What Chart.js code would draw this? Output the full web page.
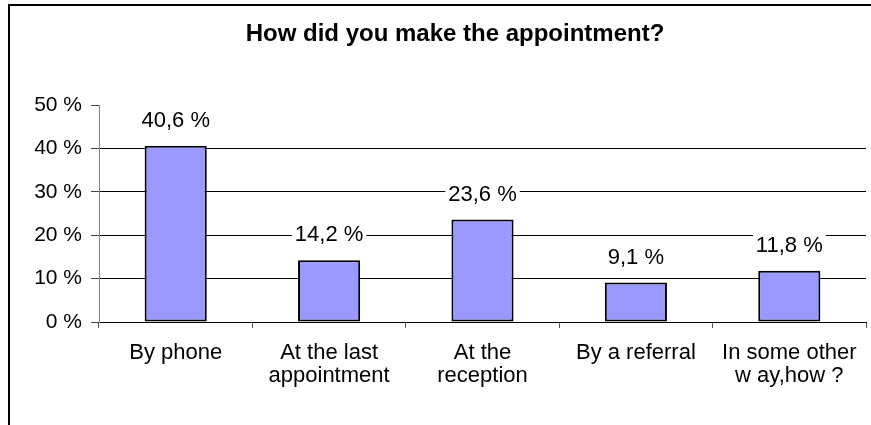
<!DOCTYPE html>
<html>
<head>
<meta charset="utf-8">
<title>How did you make the appointment?</title>
<script src="https://cdn.jsdelivr.net/npm/chart.js@4/dist/chart.umd.min.js"></script>
<style>
  html, body { margin: 0; padding: 0; background: #fff; overflow: hidden; width: 871px; height: 425px; }
  canvas { display: block; }
</style>
</head>
<body>
<canvas id="chart" width="910" height="440"></canvas>
<script>
// Survey answers: share of respondents per booking channel (percent)
const categories = [
  ['By phone'],
  ['At the last', 'appointment'],
  ['At the', 'reception'],
  ['By a referral'],
  ['In some other', 'w ay,how ?']
];
const shares = [40.6, 14.2, 23.6, 9.1, 11.8];
const yTicks = [0, 10, 20, 30, 40, 50];
const chartTitle = 'How did you make the appointment?';

const FONT = '"Liberation Sans", Arial, sans-serif';

const fmtPct = v => v.toFixed(1).replace('.', ',') + ' %';

// Outer frame of the chart object (its right and bottom edges lie past the page)
const FRAME = { left: 9, top: 5, width: 892, height: 500 };

// White background, frame and the title centred on the frame
const framePlugin = {
  id: 'frame',
  beforeDraw(chart) {
    const ctx = chart.ctx;
    ctx.save();
    ctx.fillStyle = '#fff';
    ctx.fillRect(0, 0, chart.width, chart.height);
    ctx.strokeStyle = '#000';
    ctx.lineWidth = 2;
    ctx.strokeRect(FRAME.left, FRAME.top, FRAME.width, FRAME.height);
    ctx.fillStyle = '#000';
    ctx.font = 'bold 24px ' + FONT;
    ctx.textAlign = 'center';
    ctx.textBaseline = 'middle';
    ctx.fillText(chartTitle, FRAME.left + FRAME.width / 2, 34);
    ctx.restore();
  }
};

// Value labels above each bar, on a white box that hides the gridline behind them
const valueLabels = {
  id: 'valueLabels',
  afterDatasetsDraw(chart) {
    const ctx = chart.ctx;
    const meta = chart.getDatasetMeta(0);
    const data = chart.data.datasets[0].data;
    ctx.save();
    ctx.font = '22px ' + FONT;
    ctx.textAlign = 'center';
    ctx.textBaseline = 'middle';
    meta.data.forEach((bar, i) => {
      const txt = fmtPct(data[i]);
      const y = bar.y - 26;
      const w = ctx.measureText(txt).width;
      ctx.fillStyle = '#fff';
      ctx.fillRect(bar.x - w / 2 - 3, y - 11, w + 6, 22);
      ctx.fillStyle = '#000';
      ctx.fillText(txt, bar.x, y + 1);
    });
    ctx.restore();
  }
};

new Chart(document.getElementById('chart'), {
  type: 'bar',
  data: {
    labels: categories,
    datasets: [{
      data: shares,
      backgroundColor: '#9999FF',
      borderColor: '#000',
      borderWidth: 2,
      borderSkipped: false,
      categoryPercentage: 1,
      barPercentage: 0.405
    }]
  },
  options: {
    responsive: false,
    animation: false,
    layout: { padding: { left: 0, right: 44, top: 105, bottom: 0 } },
    plugins: {
      legend: { display: false },
      tooltip: { enabled: false },
      title: { display: false }
    },
    scales: {
      x: {
        grid: {
          offset: true,
          drawOnChartArea: false,
          tickLength: 6,
          tickColor: '#555'
        },
        border: { color: '#000', width: 1 },
        ticks: {
          color: '#000',
          padding: 14,
          maxRotation: 0,
          autoSkip: false,
          font: { family: FONT, size: 22, lineHeight: 1.02 }
        },
        afterFit(s) { s.height = 118; }
      },
      y: {
        min: 0,
        max: 50,
        afterBuildTicks(s) { s.ticks = yTicks.map(v => ({ value: v })); },
        grid: {
          color: c => (c.tick && (c.tick.value === 50 || c.tick.value === 0)) ? 'rgba(0,0,0,0)' : '#000',
          tickColor: '#444',
          tickLength: 8,
          lineWidth: 1
        },
        border: { color: '#808080', width: 1 },
        ticks: {
          color: '#000',
          padding: 9,
          font: { family: FONT, size: 21 },
          callback: v => v + ' %'
        },
        afterFit(s) { s.width = 99; }
      }
    }
  },
  plugins: [framePlugin, valueLabels]
});
</script>
</body>
</html>
